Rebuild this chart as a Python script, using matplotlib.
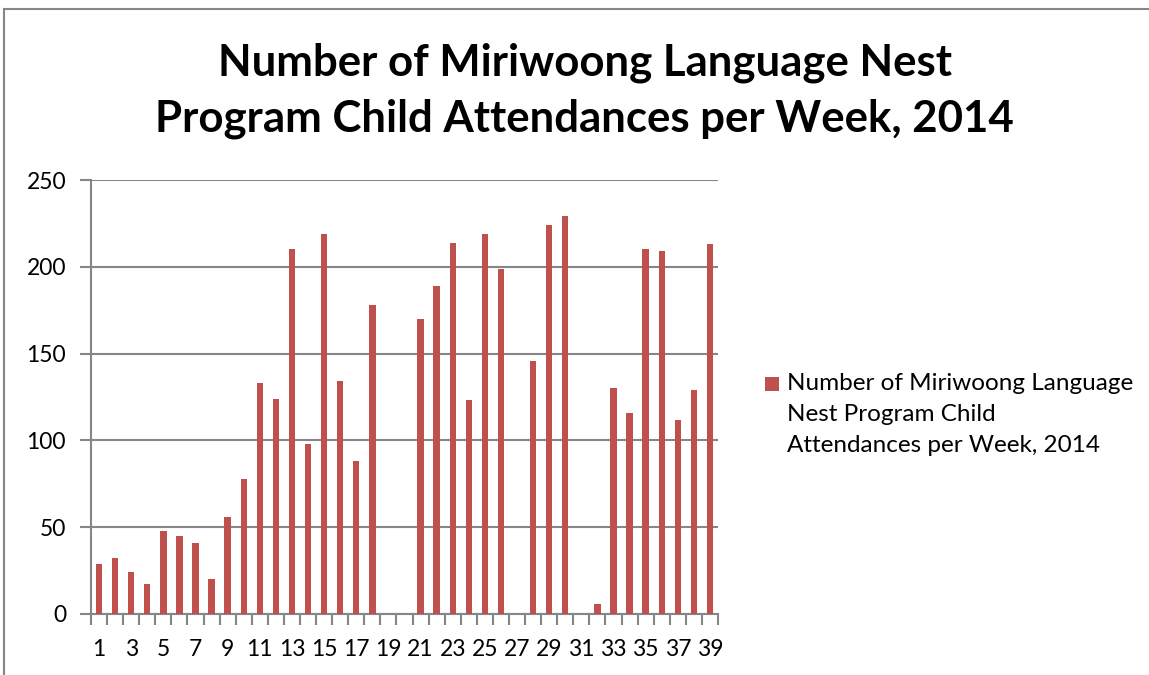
import matplotlib.pyplot as plt
from matplotlib.patches import Rectangle

plt.rcParams['font.family'] = ['Lato', 'DejaVu Sans']

# weekly attendances, 2014
weeks = list(range(1, 40))
attendances = [29, 32, 24, 17, 48, 45, 41, 20, 56, 78,
               133, 124, 210, 98, 219, 134, 88, 178, 0, 0,
               170, 189, 214, 123, 219, 199, 0, 146, 224, 229,
               0, 6, 130, 116, 210, 209, 112, 129, 213]
series_name = 'Number of Miriwoong Language\nNest Program Child\nAttendances per Week, 2014'
title = 'Number of Miriwoong Language Nest\nProgram Child Attendances per Week, 2014'

grey = '#868686'
bar_col = '#C0504D'

fig = plt.figure(figsize=(11.49, 6.75), dpi=100)
ax = fig.add_axes([0.0792, 0.0904, 0.5457, 0.6429])

ax.bar(weeks, attendances, width=0.4, color=bar_col, zorder=3)

ax.set_xlim(0.5, 39.5)
ax.set_ylim(0, 250)
ax.set_yticks(range(0, 251, 50))
ax.yaxis.grid(True, color=grey, linewidth=1.5, zorder=0)

ax.set_xticks(range(1, 40, 2))
ax.set_xticklabels([str(w) for w in range(1, 40, 2)])
ax.set_xticks([w + 0.5 for w in range(0, 40)], minor=True)
ax.tick_params(axis='x', which='major', length=0, pad=18, labelsize=16.5)
ax.tick_params(axis='x', which='minor', length=8, width=1.5, color=grey)
ax.tick_params(axis='y', length=8, width=1.5, color=grey, labelsize=16.5, pad=10)

for s in ['top', 'right']:
    ax.spines[s].set_visible(False)
for s in ['left', 'bottom']:
    ax.spines[s].set_color(grey)
    ax.spines[s].set_linewidth(1.5)

fig.text(0.509, 0.866, title, ha='center', va='center', fontsize=31.5,
         fontweight='bold', linespacing=1.48)

# legend: square key next to the first line of the series name
fig.patches.append(Rectangle((765 / 1149, 1 - 391 / 675), 14 / 1149, 14 / 675,
                             transform=fig.transFigure, facecolor=bar_col,
                             edgecolor='none'))
fig.text(787 / 1149, 1 - 373 / 675, series_name, ha='left', va='top',
         fontsize=17.5, linespacing=1.6)

# chart border, cut off at right and bottom
fig.patches.append(Rectangle((0.0035, -0.1), 1.2, 1.086, transform=fig.transFigure,
                             fill=False, edgecolor=grey, linewidth=1.5))

fig.savefig('out.png', dpi=100)
